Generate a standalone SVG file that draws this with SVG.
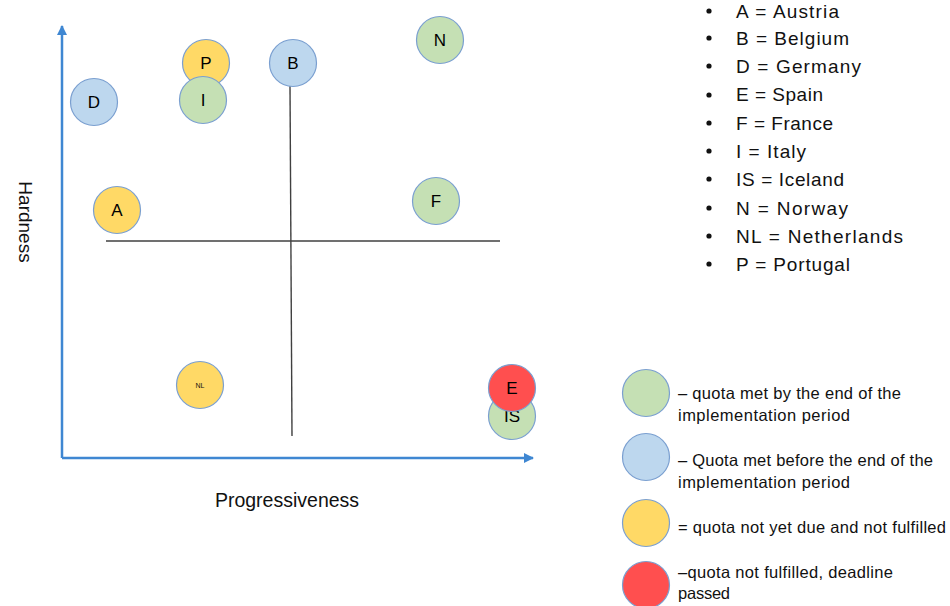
<svg xmlns="http://www.w3.org/2000/svg" width="950" height="606" viewBox="0 0 950 606">
<style>
text{font-family:"Liberation Sans",Arial,sans-serif;fill:#111}
.c{stroke:#7a9fd0;stroke-width:1.2}
.g{fill:#C5E0B4}
.b{fill:#BDD7EE}
.y{fill:#FFD966}
.r{fill:#FF4F4F}
.lb{font-size:17px;text-anchor:middle;fill:#000}
.lg{font-size:16.5px}
.ls{font-size:19px}
.ax{stroke:#3F87D2;stroke-width:2.5;fill:none}
.q{stroke:#404040;stroke-width:1.4}
</style>
<defs>
<marker id="ah" viewBox="0 0 10 10" refX="9" refY="5" markerWidth="4" markerHeight="4" orient="auto" markerUnits="strokeWidth">
<path d="M0,0 L10,5 L0,10 z" fill="#3F87D2"/>
</marker>
</defs>
<g id="connectors">
<path class="ax" d="M62,458 L62,26" marker-end="url(#ah)"/>
<path class="ax" d="M62,458 L533,458" marker-end="url(#ah)"/>
<line class="q" x1="106" y1="241" x2="500" y2="241"/>
<line class="q" x1="290" y1="86" x2="292" y2="436"/>
</g>
<text x="24" y="222" font-size="19" text-anchor="middle" dominant-baseline="middle" transform="rotate(90 24 222)">Hardness</text>
<text x="287" y="507" font-size="19.5" text-anchor="middle">Progressiveness</text>
<g id="node-P"><circle class="c y" cx="206" cy="63" r="23.5"/><text class="lb" x="206" y="69">P</text></g>
<g id="node-I"><circle class="c g" cx="203" cy="100" r="23.5"/><text class="lb" x="203" y="106">I</text></g>
<g id="node-B"><circle class="c b" cx="293" cy="63" r="23.5"/><text class="lb" x="293" y="69">B</text></g>
<g id="node-D"><circle class="c b" cx="94" cy="102" r="23.5"/><text class="lb" x="94" y="108">D</text></g>
<g id="node-A"><circle class="c y" cx="117" cy="210" r="23.5"/><text class="lb" x="117" y="216">A</text></g>
<g id="node-N"><circle class="c g" cx="440" cy="40" r="23.5"/><text class="lb" x="440" y="46">N</text></g>
<g id="node-F"><circle class="c g" cx="436" cy="201" r="23.5"/><text class="lb" x="436" y="207">F</text></g>
<g id="node-NL"><circle class="c y" cx="200" cy="385" r="23.5"/><text x="200" y="388" font-size="7" text-anchor="middle">NL</text></g>
<g id="node-IS"><circle class="c g" cx="512" cy="416" r="23.5"/><text class="lb" x="512" y="422">IS</text></g>
<g id="node-E"><circle class="c r" cx="512" cy="388" r="23.5"/><text class="lb" x="512" y="394">E</text></g>
<g id="country-list">
<g fill="#111">
<circle cx="709" cy="11" r="2.6"/><circle cx="709" cy="38" r="2.6"/><circle cx="709" cy="66" r="2.6"/><circle cx="709" cy="95" r="2.6"/><circle cx="709" cy="123" r="2.6"/><circle cx="709" cy="151" r="2.6"/><circle cx="709" cy="179" r="2.6"/><circle cx="709" cy="208" r="2.6"/><circle cx="709" cy="236" r="2.6"/><circle cx="709" cy="264" r="2.6"/>
</g>
<text class="ls" x="736" y="17.5" textLength="103">A = Austria</text>
<text class="ls" x="736" y="44.5" textLength="113">B = Belgium</text>
<text class="ls" x="736" y="73" textLength="125">D = Germany</text>
<text class="ls" x="736" y="101" textLength="87">E = Spain</text>
<text class="ls" x="736" y="129.5" textLength="97">F = France</text>
<text class="ls" x="736" y="158" textLength="70">I = Italy</text>
<text class="ls" x="736" y="186" textLength="108">IS = Iceland</text>
<text class="ls" x="736" y="214.5" textLength="112">N = Norway</text>
<text class="ls" x="736" y="243" textLength="167">NL = Netherlands</text>
<text class="ls" x="736" y="271" textLength="114">P = Portugal</text>
</g>
<g id="legend-green"><circle class="c g" cx="646" cy="393" r="23.5"/><text class="lg" x="678" y="399" textLength="223">– quota met by the end of the</text><text class="lg" x="678" y="421" textLength="172">implementation period</text></g>
<g id="legend-blue"><circle class="c b" cx="646" cy="457" r="23.5"/><text class="lg" x="678" y="466" textLength="255">– Quota met before the end of the</text><text class="lg" x="678" y="488" textLength="172">implementation period</text></g>
<g id="legend-yellow"><circle class="c y" cx="646" cy="523" r="23.5"/><text class="lg" x="678" y="533" textLength="268">= quota not yet due and not fulfilled</text></g>
<g id="legend-red"><circle class="c r" cx="646" cy="585" r="23.5"/><text class="lg" x="678" y="578" textLength="215">–quota not fulfilled, deadline</text><text class="lg" x="678" y="599" textLength="52">passed</text></g>
</svg>
